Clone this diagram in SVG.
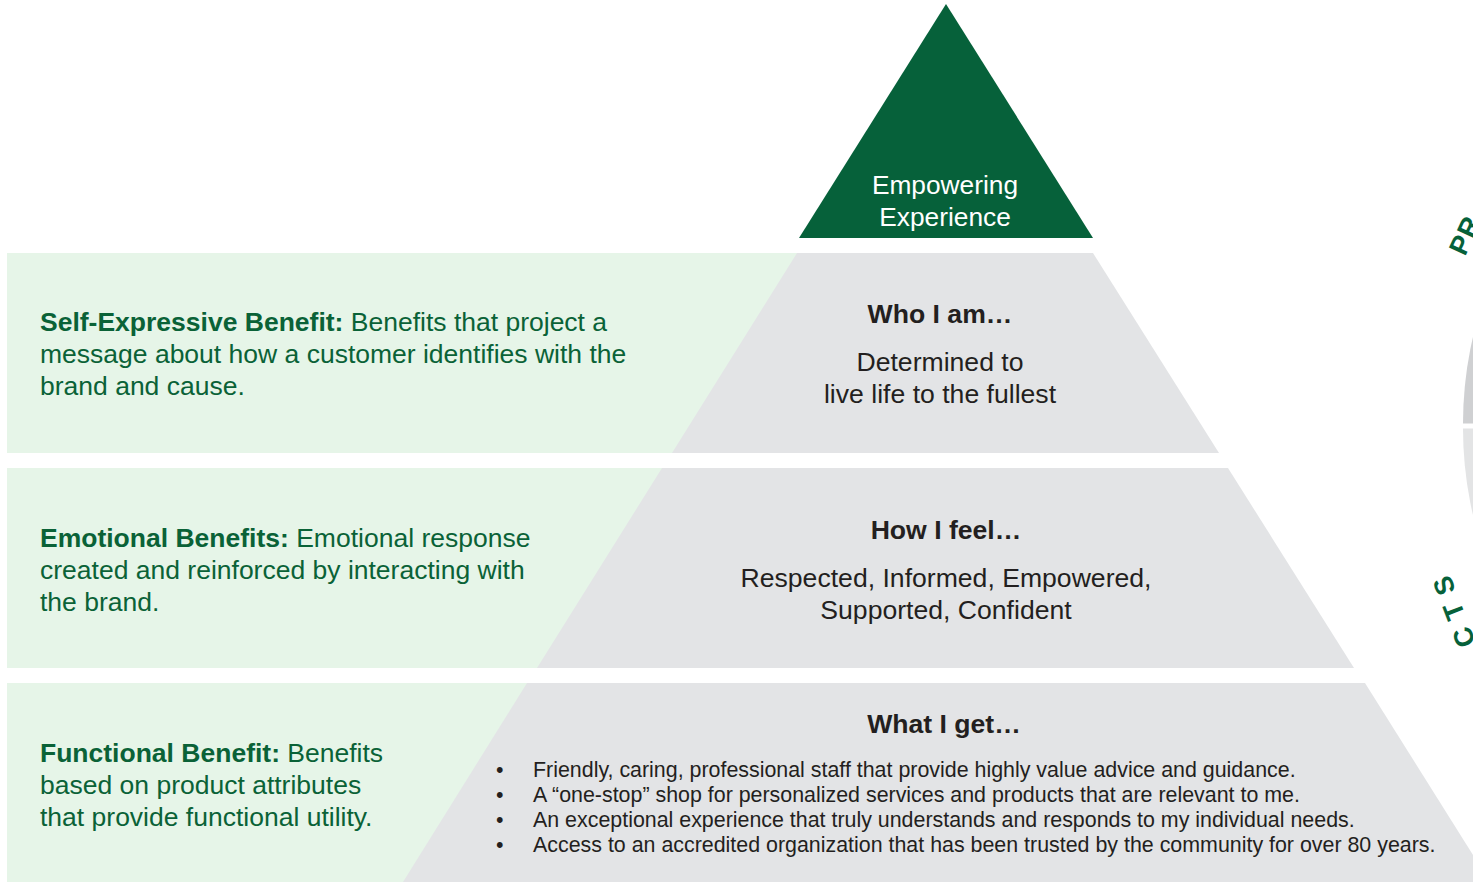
<svg xmlns="http://www.w3.org/2000/svg" width="1473" height="882" viewBox="0 0 1473 882">
<style>
.band{fill:#e6f5e8}
.tier{fill:#e3e4e6}
.lt{font-family:"Liberation Sans",Arial,sans-serif;font-size:26.5px;fill:#0a6237}
.lt .b{font-weight:bold}
.ct{font-family:"Liberation Sans",Arial,sans-serif;font-size:26.6px;fill:#231f20;text-anchor:middle}
.tp{font-family:"Liberation Sans",Arial,sans-serif;font-size:26.3px;fill:#ffffff;text-anchor:middle}
.hd{font-weight:bold}
.bl{font-family:"Liberation Sans",Arial,sans-serif;font-size:21.4px;fill:#231f20}
.ring{font-family:"Liberation Sans",Arial,sans-serif;font-size:27px;font-weight:bold;fill:#06613a}
</style>
<rect width="1473" height="882" fill="#ffffff"/>

<g id="circle">
<path d="M1843,423.5 H1463 A380,380 0 0 1 1843,43.5 Z" fill="#cfd0d2"/>
<path d="M1843,428.5 H1463 A380,380 0 0 0 1843,808.5 Z" fill="#e3e4e5"/>
<text class="ring" transform="translate(1465,257) rotate(-65)" letter-spacing="1">PR</text>
<text class="ring" transform="translate(1476,643) rotate(-111)" letter-spacing="10">CTS</text>
</g>

<g id="top">
<polygon points="946,4 1093,238 799,238" fill="#06613a"/>
<text class="tp" x="945" y="194">Empowering</text>
<text class="tp" x="945" y="226">Experience</text>
</g>

<g id="tier1">
<rect class="band" x="7" y="253" width="792" height="200"/>
<polygon class="tier" points="797,253 1093,253 1219,453 672,453"/>
<text class="ct hd" x="940" y="323">Who I am…</text>
<text class="ct" x="940" y="371">Determined to</text>
<text class="ct" x="940" y="403">live life to the fullest</text>
<text class="lt" x="40" y="331"><tspan class="b">Self-Expressive Benefit:</tspan> Benefits that project a</text>
<text class="lt" x="40" y="363">message about how a customer identifies with the</text>
<text class="lt" x="40" y="395">brand and cause.</text>
</g>

<g id="tier2">
<rect class="band" x="7" y="468" width="657" height="200"/>
<polygon class="tier" points="662,468 1228,468 1354,668 537,668"/>
<text class="ct hd" x="946" y="539">How I feel…</text>
<text class="ct" x="946" y="587">Respected, Informed, Empowered,</text>
<text class="ct" x="946" y="619">Supported, Confident</text>
<text class="lt" x="40" y="547"><tspan class="b">Emotional Benefits:</tspan> Emotional response</text>
<text class="lt" x="40" y="579">created and reinforced by interacting with</text>
<text class="lt" x="40" y="611">the brand.</text>
</g>

<g id="tier3">
<rect class="band" x="7" y="683" width="523" height="199"/>
<polygon class="tier" points="527,683 1365,683 1490,882 403,882"/>
<text class="ct hd" x="944" y="733">What I get…</text>
<text class="lt" x="40" y="762"><tspan class="b">Functional Benefit:</tspan> Benefits</text>
<text class="lt" x="40" y="794">based on product attributes</text>
<text class="lt" x="40" y="826">that provide functional utility.</text>
<g class="bl">
<text x="496" y="777">•</text><text x="533" y="777">Friendly, caring, professional staff that provide highly value advice and guidance.</text>
<text x="496" y="802">•</text><text x="533" y="802">A “one-stop” shop for personalized services and products that are relevant to me.</text>
<text x="496" y="827">•</text><text x="533" y="827">An exceptional experience that truly understands and responds to my individual needs.</text>
<text x="496" y="852">•</text><text x="533" y="852">Access to an accredited organization that has been trusted by the community for over 80 years.</text>
</g>
</g>
</svg>
